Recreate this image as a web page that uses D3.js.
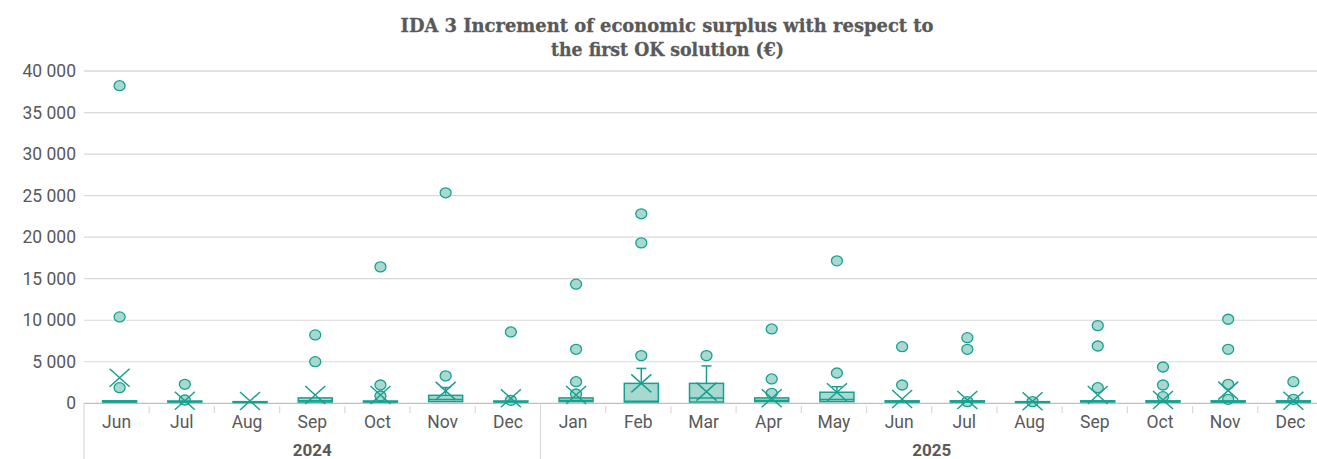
<!DOCTYPE html>
<html><head><meta charset="utf-8">
<script src="https://cdn.jsdelivr.net/npm/d3@7"></script>
<style>body{margin:0;background:#fff}svg{display:block}</style>
</head><body><svg id="c" width="1317" height="459"></svg>
<script>
const months = ["Jun","Jul","Aug","Sep","Oct","Nov","Dec","Jan","Feb","Mar","Apr","May","Jun","Jul","Aug","Sep","Oct","Nov","Dec"];
const years  = ["2024","2024","2024","2024","2024","2024","2024","2025","2025","2025","2025","2025","2025","2025","2025","2025","2025","2025","2025"];
const whiskerLow  = [0,0,0,0,0,0,0,0,0,0,0,0,0,0,0,0,0,0,0];
const q1          = [150,150,100,150,150,200,150,200,150,150,200,200,150,150,100,150,150,150,150];
const median      = [200,200,150,300,200,450,200,350,250,650,350,450,200,200,150,250,200,200,200];
const q3          = [300,280,200,650,280,960,280,650,2400,2400,650,1330,300,300,200,300,300,300,300];
const whiskerHigh = [300,280,200,650,280,1900,280,650,4200,4500,650,2000,300,300,200,300,300,300,300];
const means       = [3080,300,280,1000,1000,1500,600,1000,2400,1400,600,1330,520,400,240,1000,400,1520,310];
const outliers = [
  [38230,10400,1880],
  [2290,400],
  [],
  [8230,5010],
  [16420,2200,880],
  [25340,3300],
  [8590,360],
  [14340,6500,2600,1120],
  [22810,19310,5740],
  [5740],
  [8950,2930,1200],
  [17150,3650],
  [6820,2200],
  [7900,6500,200],
  [200],
  [9350,6900,1880],
  [4370,2200,800],
  [10120,6500,2290,480],
  [2600,480]
];
const yTicks = [0,5000,10000,15000,20000,25000,30000,35000,40000];
const titleLines = ["IDA 3 Increment of economic surplus with respect to","the first OK solution (€)"];

const W = 1317, H = 459;
const TEXT = "#595959", GRID = "#d9d9d9", STROKE = "#17a090", FILL = "#a7d9d1";
const svg = d3.select("#c");
const idx = d3.range(months.length);
const x = d3.scaleBand().domain(idx).range([84, 1323]).padding(0);
const y = d3.scaleLinear().domain([0, 40000]).range([403.3, 71]);
const fmt = d3.formatLocale({decimal: ",", thousands: " ", grouping: [3], currency: ["", "€"]}).format(",d");
const boxW = 34, capW = 10, xOff = 3;
const cx = i => x(i) + x.bandwidth() / 2 + xOff;

// title
const title = svg.append("g").attr("font-family", "'DejaVu Serif', serif").attr("font-weight", "bold")
  .attr("font-size", 18.5).attr("fill", TEXT).attr("text-anchor", "middle")
  .attr("stroke", TEXT).attr("stroke-width", 0.3);
title.append("text").attr("x", 667).attr("y", 32).attr("textLength", 533).attr("lengthAdjust", "spacingAndGlyphs").text(titleLines[0]);
title.append("text").attr("x", 667.5).attr("y", 56).attr("textLength", 233).attr("lengthAdjust", "spacingAndGlyphs").text(titleLines[1]);

// grid
svg.append("g").selectAll("line").data(yTicks).join("line")
  .attr("x1", 84).attr("x2", W).attr("y1", d => y(d)).attr("y2", d => y(d))
  .attr("stroke", d => d === 0 ? "#bfbfbf" : GRID).attr("stroke-width", d => d === 40000 ? 1.6 : 1.2);

// y labels
svg.append("g").attr("font-family", "Roboto, sans-serif").attr("font-size", 17.5).attr("fill", TEXT).attr("text-anchor", "end")
  .selectAll("text").data(yTicks).join("text")
  .attr("x", 76).attr("y", d => y(d)).attr("dy", "0.35em").text(d => fmt(d));

// x axis ticks and separators
const ax = svg.append("g");
idx.forEach(i => {
  const xb = x(i);
  const isYearStart = i === 0 || years[i] !== years[i - 1];
  ax.append("line").attr("x1", xb).attr("x2", xb)
    .attr("y1", isYearStart ? 403.3 : 406).attr("y2", isYearStart ? H : 413)
    .attr("stroke", GRID).attr("stroke-width", 1.2);
});
ax.append("g").attr("font-family", "Roboto, sans-serif").attr("font-size", 17.5).attr("fill", TEXT).attr("text-anchor", "middle")
  .selectAll("text").data(idx).join("text")
  .attr("x", i => x(i) + x.bandwidth() / 2).attr("y", 427.5).text(i => months[i]);
const yearGroups = d3.groups(idx, i => years[i]);
ax.append("g").attr("font-family", "Roboto, sans-serif").attr("font-size", 17).attr("font-weight", "bold").attr("fill", TEXT).attr("text-anchor", "middle")
  .selectAll("text").data(yearGroups).join("text")
  .attr("x", d => (x(d[1][0]) + x(d[1][d[1].length - 1]) + x.bandwidth()) / 2).attr("y", 456).text(d => d[0]);

// boxes
const g = svg.append("g").attr("stroke", STROKE).attr("stroke-width", 1.5);
idx.forEach(i => {
  const c = cx(i);
  outliers[i].forEach(v => {
    g.append("ellipse").attr("cx", c).attr("cy", y(v)).attr("rx", 5.5).attr("ry", 5)
      .attr("fill", FILL).attr("stroke-width", 1.3);
  });
  if (y(q3[i]) - y(whiskerHigh[i]) > 2) {
    g.append("line").attr("x1", c).attr("x2", c).attr("y1", y(q3[i])).attr("y2", y(whiskerHigh[i]));
    g.append("line").attr("x1", c - capW / 2).attr("x2", c + capW / 2).attr("y1", y(whiskerHigh[i])).attr("y2", y(whiskerHigh[i]));
  }
  if (y(whiskerLow[i]) - y(q1[i]) > 2) {
    g.append("line").attr("x1", c).attr("x2", c).attr("y1", y(q1[i])).attr("y2", y(whiskerLow[i]));
  }
  g.append("rect").attr("x", c - boxW / 2).attr("width", boxW)
    .attr("y", y(q3[i])).attr("height", Math.max(0.5, y(q1[i]) - y(q3[i])))
    .attr("fill", FILL);
  g.append("line").attr("x1", c - boxW / 2).attr("x2", c + boxW / 2).attr("y1", y(median[i])).attr("y2", y(median[i]));
  const my = y(means[i]);
  g.append("path").attr("d", `M${c - 10},${my - 9}L${c + 10},${my + 9}M${c - 10},${my + 9}L${c + 10},${my - 9}`)
    .attr("fill", "none");
});
</script></body></html>
